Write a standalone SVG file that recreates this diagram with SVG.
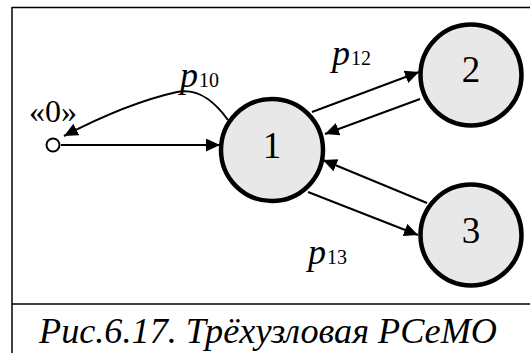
<svg xmlns="http://www.w3.org/2000/svg" width="530" height="353" viewBox="0 0 530 353">
<style>
.frame{fill:none;stroke:#000;stroke-width:1.5}
.node{fill:#e8e8e8;stroke:#000;stroke-width:4.5}
.serif{font-family:'Liberation Serif','Times New Roman',serif}
.lbl{font-size:37px;text-anchor:middle;fill:#000}
.edge{fill:none;stroke:#000;stroke-width:2}
.p{font-style:italic;font-size:36px;fill:#000}
.sub{font-style:normal;font-size:20px}
.cap{font-style:italic;font-size:35px;fill:#000}
</style>
<defs>
<marker id="ah" markerUnits="userSpaceOnUse" markerWidth="16" markerHeight="14" refX="14" refY="6.5" orient="auto">
<path d="M0,0 L14,6.5 L0,13 z" fill="#000"/>
</marker>
</defs>
<rect x="0" y="0" width="530" height="353" fill="#fff"/>
<g id="frame">
<line class="frame" x1="12" y1="7.5" x2="531" y2="7.5"/>
<line class="frame" x1="12" y1="7" x2="12" y2="353"/>
<line class="frame" x1="12" y1="304" x2="531" y2="304"/>
</g>
<g id="connectors">
<path class="edge" d="M61,145 L220,145" marker-end="url(#ah)"/>
<path class="edge" d="M228,120 C212,98 196,88 177,92 C150,98 110,112 64,136" marker-end="url(#ah)"/>
<path class="edge" d="M312,112 L419,72" marker-end="url(#ah)"/>
<path class="edge" d="M420,99 L325,134" marker-end="url(#ah)"/>
<path class="edge" d="M427,203 L323,160" marker-end="url(#ah)"/>
<path class="edge" d="M308,192 L418,235" marker-end="url(#ah)"/>
</g>
<g id="labels" class="serif">
<text class="p" x="180" y="87">p<tspan class="sub" dx="1">10</tspan></text>
<text class="p" x="332" y="65">p<tspan class="sub" dx="1">12</tspan></text>
<text class="p" x="308" y="264">p<tspan class="sub" dx="1">13</tspan></text>
</g>
<g id="node0" class="serif">
<circle cx="53" cy="145" r="6.5" fill="#fff" stroke="#000" stroke-width="2"/>
<text x="53" y="122" font-size="32" text-anchor="middle">«0»</text>
</g>
<g id="node1" class="serif">
<circle class="node" cx="272" cy="150" r="51" stroke-width="5.5"/>
<text class="lbl" x="272" y="158">1</text>
</g>
<g id="node2" class="serif">
<circle class="node" cx="471" cy="75" r="50.5"/>
<text class="lbl" x="471" y="82">2</text>
</g>
<g id="node3" class="serif">
<circle class="node" cx="471" cy="235" r="50.5"/>
<text class="lbl" x="471" y="243">3</text>
</g>
<g id="caption" class="serif">
<text class="cap" x="39" y="343" textLength="458" lengthAdjust="spacingAndGlyphs">Рис.6.17. Трёхузловая РСеМО</text>
</g>
</svg>
